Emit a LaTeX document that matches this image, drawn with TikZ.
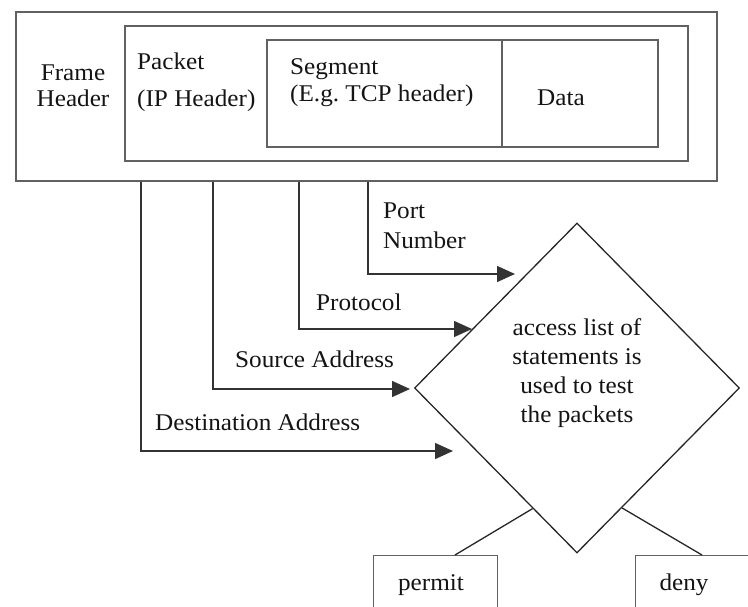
\documentclass[tikz,border=0pt]{standalone}
\usepackage{fontspec}
\setmainfont[FakeStretch=1.05]{Liberation Serif}
\frenchspacing
\usetikzlibrary{arrows.meta,shapes.geometric,calc}
\begin{document}
\begin{tikzpicture}[x=1pt,y=-1pt,
  box/.style={draw=black!62, line width=1.7pt, inner sep=0pt, anchor=north west},
  conn/.style={draw=black!80, line width=1.5pt},
  arr/.style={conn, -{Triangle[length=18pt,width=16pt]}},
  lbl/.style={inner sep=0pt, text=black!92, font=\fontsize{24}{28}\selectfont},
  edge/.style={draw=black!85, line width=1.3pt}]
\useasboundingbox (0,0) rectangle (748,607);
\clip (0,0) rectangle (748,607);

% nested frame / packet / segment boxes
\node[box, minimum width=701, minimum height=169] (frame) at (15,11) {};
\node[box, minimum width=563, minimum height=135] (packet) at (124,25) {};
\node[box, minimum width=391, minimum height=107] (segment) at (266,39) {};
\path (segment.north west) ++(236,0) coordinate (divtop);
\draw[draw=black!62, line width=1.7pt] (divtop) -- (divtop |- segment.south);

% multi-line labels are anchored at the baseline of their last line
\node[lbl, anchor=base, align=center, font=\fontsize{24}{26}\selectfont] (frametxt) at (73,107) {Frame\\Header};
\node[lbl, anchor=base west, align=left, font=\fontsize{24}{37}\selectfont] (packettxt) at (137,107) {Packet\\(IP Header)};
\node[lbl, anchor=base west, align=left, font=\fontsize{24}{27}\selectfont] (segmenttxt) at (290,102) {Segment\\(E.g. TCP header)};
\node[lbl, anchor=base west] (datatxt) at (537,106) {Data};

% decision diamond
\node[diamond, draw=black!85, line width=1.3pt, minimum width=325, minimum height=330, inner sep=0pt] (acl) at (577,388) {};
\node[lbl, anchor=base, align=center, font=\fontsize{24}{29}\selectfont] (acltxt) at (577,422) {access list of\\statements is\\used to test\\the packets};

% field labels
\node[lbl, anchor=base west, align=left, font=\fontsize{24}{31}\selectfont] (porttxt) at (383,249) {Port\\Number};
\node[lbl, anchor=base west] (prototxt) at (316,310) {Protocol};
\node[lbl, anchor=base west] (srctxt) at (235,367) {Source Address};
\node[lbl, anchor=base west] (dsttxt) at (155,430) {Destination Address};

% arrow ends
\coordinate (tipPort) at (515,274);
\coordinate (tipProto) at (472,329);
\coordinate (tipSrc) at (410,389);
\coordinate (tipDst) at (453,451);

\draw[arr] (frame.south west) ++(353,0) |- (tipPort);
\draw[arr] (frame.south west) ++(284,0) |- (tipProto);
\draw[arr] (frame.south west) ++(198,0) |- (tipSrc);
\draw[arr] (frame.south west) ++(126,0) |- (tipDst);

% outcome boxes
\node[box, line width=1.4pt, minimum width=124, minimum height=70] (permit) at (373,555) {};
\node[lbl, anchor=base] (permittxt) at (431,590) {permit};
\node[box, line width=1.4pt, minimum width=130, minimum height=70] (deny) at (635,555) {};
\node[lbl, anchor=base] (denytxt) at (684,590) {deny};

\draw[edge] ($(acl.west)!0.728!(acl.south)$) -- ($(permit.north west)+(82,0)$);
\draw[edge] ($(acl.east)!0.724!(acl.south)$) -- ($(deny.north west)+(67,0)$);
\end{tikzpicture}
\end{document}
